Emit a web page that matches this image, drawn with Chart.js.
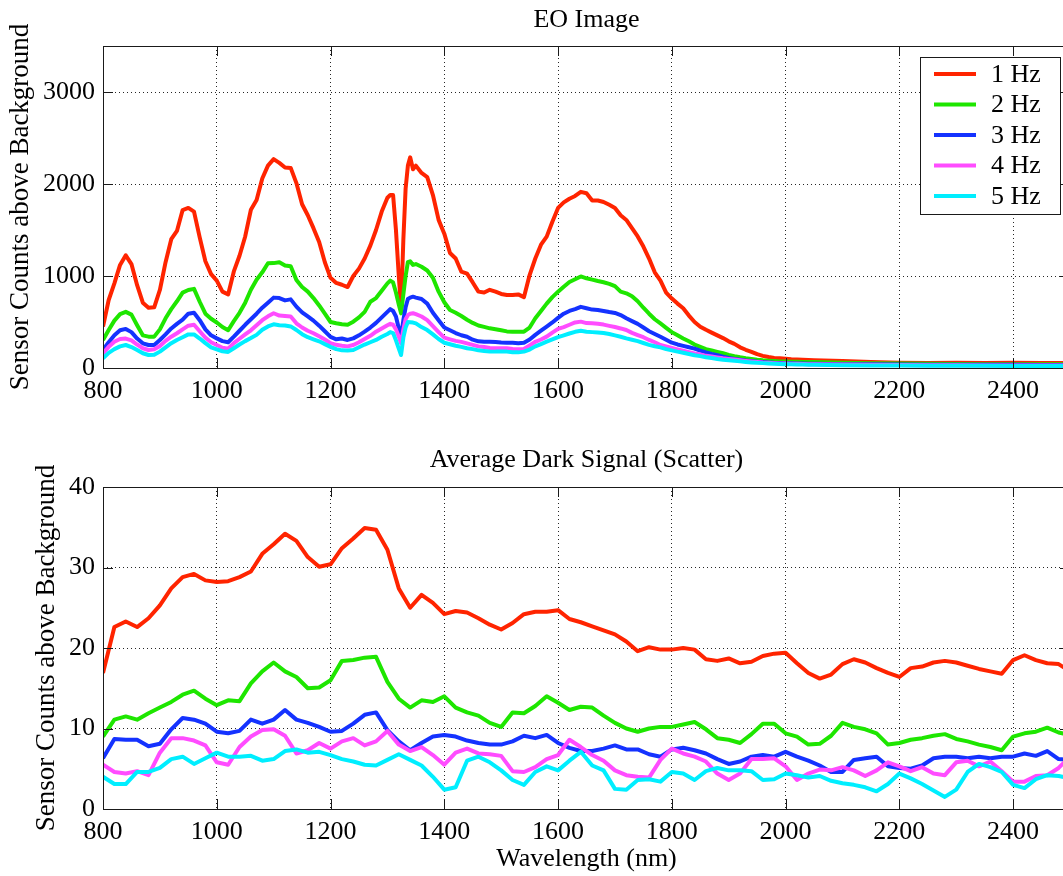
<!DOCTYPE html>
<html>
<head>
<meta charset="utf-8">
<script src="https://cdn.jsdelivr.net/npm/chart.js@4.4.1/dist/chart.umd.min.js"></script>
<style>
html,body{margin:0;padding:0;background:#fff;overflow:hidden;width:1063px;height:876px;}
#c1{position:absolute;left:0;top:0;}
#c2{position:absolute;left:0;top:430px;}
</style>
</head>
<body>
<canvas id="c1" width="1080" height="430"></canvas>
<canvas id="c2" width="1080" height="446"></canvas>
<script>
// ---------- DATA ----------
const seriesLabels = ['1 Hz', '2 Hz', '3 Hz', '4 Hz', '5 Hz'];
const seriesColors = ['#ff2400', '#1ee600', '#1432ff', '#ff4cff', '#00eeff'];

const xTickValues = [800, 1000, 1200, 1400, 1600, 1800, 2000, 2200, 2400];
const eoTickValues = [0, 1000, 2000, 3000];
const darkTickValues = [0, 10, 20, 30, 40];

// EO Image (top panel)
const eoWavelength = [
  800,810,820,830,840,850,860,870,880,890,900,910,920,930,940,950,960,970,980,990,
  1000,1010,1020,1030,1040,1050,1060,1070,1080,1090,1100,1110,1120,1130,1140,1150,1160,1170,1180,1190,
  1200,1210,1220,1230,1240,1250,1260,1270,1280,1290,1300,
  1305,1310,1315,1320,1324,1328,1332,1336,1340,1345,1350,
  1360,1370,1380,1390,1400,1410,1420,1430,1440,1450,1460,1470,1480,1490,1500,1510,1520,1530,1540,1550,
  1560,1570,1580,1590,1600,1610,1620,1630,1640,1650,1660,1670,1680,1690,1700,1710,1720,1730,1740,1750,
  1760,1770,1780,1790,1800,1810,1820,1830,1840,1850,1860,1870,1880,1890,1900,1910,1920,1930,1940,1950,
  1960,1970,1980,1990,2000,2010,2020,2030,2040,2050,
  2100,2150,2200,2250,2300,2350,2400,2450,2500
];
const eo1Hz = [
  450,739,920,1120,1225,1130,900,710,655,660,848,1150,1400,1490,1717,1740,1700,1420,1160,1020,
  950,830,800,1050,1220,1430,1720,1826,2060,2200,2270,2230,2180,2175,2010,1780,1660,1520,1370,1150,
  980,925,905,880,1000,1080,1190,1330,1500,1700,1850,
  1880,1880,1500,1000,650,1391,1950,2200,2290,2160,2200,
  2120,2075,1880,1610,1460,1250,1190,1047,1025,930,830,820,850,830,805,793,793,800,770,1010,
  1190,1340,1428,1590,1740,1800,1840,1870,1915,1899,1820,1820,1805,1775,1740,1660,1609,1520,1430,1320,
  1190,1040,950,820,755,700,650,570,500,449,415,385,355,325,290,262,225,198,176,150,
  132,120,110,105,100,95,92,90,88,85,
  75,65,58,55,57,55,58,55,55
];
const eo2Hz = [
  304,413,515,585,610,580,465,355,341,341,420,540,640,725,820,848,860,720,590,535,
  495,445,410,510,600,710,850,960,1040,1138,1140,1150,1115,1105,957,880,830,760,680,590,
  500,486,475,470,504,550,610,720,760,840,920,
  950,930,820,690,594,800,1000,1150,1160,1120,1130,
  1100,1060,980,830,715,630,600,565,525,490,462,447,431,422,410,398,395,395,395,440,
  540,620,700,770,830,884,935,965,995,975,960,945,932,915,890,830,812,780,725,655,
  590,530,484,436,390,355,320,290,255,230,205,190,175,160,142,128,116,106,98,90,
  84,80,76,72,70,68,67,66,65,64,
  58,52,48,45,44,42,42,40,40
];
const eo3Hz = [
  196,280,355,410,425,390,320,268,250,250,304,365,430,480,525,590,600,520,420,355,
  322,292,280,341,405,470,530,590,655,710,765,760,735,746,667,605,560,515,460,400,
  338,312,320,305,322,355,395,440,490,550,610,
  640,620,560,430,341,520,660,750,765,775,765,
  750,700,600,520,440,410,380,356,340,308,290,286,286,283,278,275,275,270,275,310,
  360,405,449,495,545,590,620,640,665,650,635,630,620,608,598,575,540,510,480,440,
  400,370,340,308,275,256,240,225,210,188,170,154,140,124,110,98,90,81,75,69,
  64,61,57,55,53,51,49,48,47,46,
  42,40,38,36,35,34,34,33,33
];
const eo4Hz = [
  159,230,285,315,320,300,255,215,196,203,239,295,340,378,420,460,470,400,330,280,
  250,220,210,270,318,365,410,465,520,562,595,570,565,560,486,440,405,378,345,310,
  270,252,242,235,250,280,315,350,395,430,465,
  480,470,420,340,268,420,530,575,590,595,585,
  560,520,455,390,330,312,295,284,268,252,235,228,218,214,214,214,206,203,206,245,
  285,310,341,385,425,445,470,495,504,488,486,480,472,458,445,430,413,382,358,335,
  305,280,250,234,218,203,188,172,157,148,132,125,115,106,99,92,84,77,71,65,
  60,57,53,50,48,47,45,43,42,41,
  37,34,32,30,30,28,28,27,27
];
const eo5Hz = [
  105,165,205,235,250,228,195,160,141,143,178,225,270,305,335,365,365,320,270,225,
  203,182,175,215,255,292,325,360,415,452,475,465,462,452,413,368,335,312,290,260,
  230,205,192,190,196,226,255,280,305,340,370,
  390,380,300,210,141,330,440,500,498,494,485,
  445,412,365,315,275,258,242,230,215,205,192,186,180,178,178,178,172,170,178,200,
  235,260,286,310,335,355,375,393,404,395,390,386,380,370,355,340,322,307,292,272,
  252,236,224,205,192,178,166,152,138,129,117,108,98,90,84,78,72,66,61,56,
  53,50,47,44,42,40,38,37,36,35,
  31,28,26,25,24,24,23,23,23
];

// Average Dark Signal (bottom panel)
const darkWavelength = [
  800,820,840,860,880,900,920,940,960,980,1000,1020,1040,1060,1080,1100,1120,1140,1160,1180,
  1200,1220,1240,1260,1280,1300,1320,1340,1360,1380,1400,1420,1440,1460,1480,1500,1520,1540,1560,1580,
  1600,1620,1640,1660,1680,1700,1720,1740,1760,1780,1800,1820,1840,1860,1880,1900,1920,1940,1960,1980,
  2000,2020,2040,2060,2080,2100,2120,2140,2160,2180,2200,2220,2240,2260,2280,2300,2320,2340,2360,2380,
  2400,2420,2440,2460,2480,2500
];
const dark1Hz = [
  16.9,22.6,23.3,22.6,23.7,25.3,27.4,28.8,29.2,28.4,28.2,28.3,28.8,29.5,31.7,32.9,34.2,33.3,31.3,30.1,
  30.4,32.4,33.6,34.9,34.7,32.2,27.4,25.0,26.6,25.6,24.2,24.6,24.4,23.7,22.9,22.3,23.1,24.2,24.5,24.5,
  24.7,23.6,23.2,22.7,22.2,21.7,20.8,19.6,20.1,19.8,19.8,20.0,19.8,18.6,18.4,18.7,18.1,18.3,19.0,19.3,
  19.4,18.1,16.9,16.2,16.7,18.0,18.6,18.2,17.5,16.9,16.4,17.5,17.7,18.2,18.4,18.2,17.8,17.4,17.1,16.8,
  18.5,19.1,18.5,18.1,18.0,17.1
];
const dark2Hz = [
  9.0,11.1,11.5,11.1,11.9,12.6,13.3,14.2,14.7,13.7,12.9,13.5,13.4,15.6,17.1,18.2,17.1,16.4,15.0,15.1,
  16.0,18.4,18.5,18.8,18.9,15.8,13.7,12.6,13.5,13.3,14.0,12.6,12.0,11.6,10.7,10.2,12.0,11.9,12.8,14.0,
  13.2,12.3,12.7,12.6,11.6,10.7,10.0,9.6,10.0,10.2,10.2,10.5,10.8,9.9,8.8,8.6,8.2,9.3,10.6,10.6,
  9.4,9.0,8.0,8.1,9.1,10.7,10.2,9.9,9.4,8.0,8.2,8.6,8.8,9.1,9.3,8.7,8.4,8.0,7.7,7.3,
  9.0,9.4,9.6,10.1,9.5,9.2
];
const dark3Hz = [
  6.3,8.7,8.6,8.6,7.8,8.1,9.9,11.3,11.1,10.6,9.6,9.4,9.7,11.1,10.6,11.1,12.3,11.1,10.7,10.2,
  9.6,9.7,10.6,11.7,12.0,9.8,8.4,7.3,8.2,9.0,9.2,9.0,8.5,8.2,8.0,8.0,8.4,9.1,8.8,9.2,
  8.2,7.6,7.2,7.2,7.5,7.9,7.4,7.4,6.8,6.5,7.4,7.6,7.3,6.9,6.2,5.6,5.9,6.5,6.7,6.5,
  7.1,6.5,6.0,5.4,4.6,4.6,6.1,6.3,6.5,5.3,5.1,5.0,5.4,6.3,6.5,6.5,6.3,6.5,6.3,6.5,
  6.5,6.9,6.6,7.2,6.2,6.1
];
const dark4Hz = [
  5.5,4.6,4.4,4.7,4.2,7.0,8.8,8.8,8.5,7.9,5.8,5.5,7.7,9.0,9.8,9.9,9.1,6.9,7.3,8.2,
  7.5,8.4,8.8,7.9,8.4,9.7,8.0,7.2,7.7,6.7,5.5,7.0,7.5,6.9,6.8,6.6,4.7,4.6,5.2,6.2,
  6.7,8.6,7.7,6.7,6.0,4.8,4.2,4.0,3.9,6.1,7.5,6.9,6.5,5.9,4.4,3.6,4.4,6.2,6.2,6.3,
  5.3,3.6,4.4,4.9,4.8,5.2,4.8,4.1,4.8,5.8,5.3,4.7,5.2,4.4,4.2,5.8,6.0,5.3,5.9,4.7,
  3.4,3.4,4.1,4.2,5.1,6.5
];
const dark5Hz = [
  4.0,3.1,3.1,4.6,4.6,5.1,6.2,6.5,5.6,6.3,7.0,6.5,6.5,6.6,6.0,6.2,7.2,7.4,7.0,7.1,
  6.7,6.2,5.9,5.5,5.4,6.1,6.8,6.1,5.4,4.0,2.4,2.7,6.0,6.5,5.8,4.8,3.6,3.0,4.6,5.3,
  4.8,6.0,7.1,5.4,4.8,2.5,2.4,3.6,3.7,3.4,4.6,4.4,3.6,4.7,5.1,4.8,4.8,4.7,3.6,3.7,
  4.4,4.2,3.9,4.1,3.5,3.2,3.0,2.7,2.2,3.1,4.4,3.8,3.1,2.3,1.5,2.4,4.6,5.6,5.2,4.6,
  3.0,2.6,3.7,4.2,4.1,3.8
];

// ---------- RENDERING ----------
const FONT = "'Liberation Serif', 'Times New Roman', Times, serif";
Chart.defaults.font.family = FONT;
Chart.defaults.color = '#000';

function buildDatasets(wl, seriesList) {
  return seriesList.map((vals, i) => ({
    label: seriesLabels[i],
    data: wl.map((x, j) => ({ x: x, y: vals[j] })),
    borderColor: seriesColors[i],
    backgroundColor: seriesColors[i],
    borderWidth: 4,
    pointRadius: 0,
    tension: 0,
    fill: false,
    borderJoinStyle: 'round',
    order: 5 - i
  }));
}

const framePlugin = {
  id: 'matlabFrame',
  afterDatasetsDraw(chart) {
    const { ctx, chartArea, scales } = chart;
    const { left, right, top, bottom } = chartArea;
    const L = 10;
    ctx.save();
    ctx.strokeStyle = '#1a1a1a';
    ctx.lineWidth = 1;
    ctx.beginPath();
    ctx.rect(Math.round(left) + 0.5, Math.round(top) + 0.5, Math.round(right - left), Math.round(bottom - top));
    ctx.stroke();
    ctx.beginPath();
    scales.x.ticks.forEach(t => {
      const px = Math.round(scales.x.getPixelForValue(t.value)) + 0.5;
      ctx.moveTo(px, bottom); ctx.lineTo(px, bottom - L);
      ctx.moveTo(px, top); ctx.lineTo(px, top + L);
    });
    scales.y.ticks.forEach(t => {
      const py = Math.round(scales.y.getPixelForValue(t.value)) + 0.5;
      ctx.moveTo(left, py); ctx.lineTo(left + L, py);
      ctx.moveTo(right, py); ctx.lineTo(right - L, py);
    });
    ctx.stroke();
    ctx.restore();
  }
};

const panelTitlePlugin = {
  id: 'panelTitle',
  afterDraw(chart, args, opts) {
    const { ctx, chartArea } = chart;
    ctx.save();
    ctx.font = '26px ' + FONT;
    ctx.fillStyle = '#000';
    ctx.textAlign = 'center';
    ctx.textBaseline = 'alphabetic';
    ctx.fillText(opts.text, (chartArea.left + chartArea.right) / 2, opts.baseline);
    ctx.restore();
  }
};

const boxLegendPlugin = {
  id: 'boxLegend',
  afterDraw(chart, args, opts) {
    if (!opts.show) return;
    const { ctx } = chart;
    const x0 = 920, x1 = 1060, y0 = 57, y1 = 214;
    ctx.save();
    ctx.fillStyle = '#fff';
    ctx.fillRect(x0, y0, x1 - x0, y1 - y0);
    ctx.strokeStyle = '#1a1a1a';
    ctx.lineWidth = 1;
    ctx.strokeRect(x0 + 0.5, y0 + 0.5, x1 - x0, y1 - y0);
    ctx.font = '26px ' + FONT;
    ctx.textAlign = 'left';
    ctx.textBaseline = 'middle';
    chart.data.datasets.forEach((ds, i) => {
      const yy = 74 + i * 30.5;
      ctx.strokeStyle = ds.borderColor;
      ctx.lineWidth = 4;
      ctx.beginPath();
      ctx.moveTo(934, yy); ctx.lineTo(976, yy);
      ctx.stroke();
      ctx.fillStyle = '#000';
      ctx.fillText(ds.label, 991, yy + 1);
    });
    ctx.restore();
  }
};

function axisCommon() {
  return {
    grid: { color: 'rgba(0,0,0,0.85)', lineWidth: 1, drawTicks: false },
    border: { display: false, dash: [1, 3] }
  };
}

function makePanel(canvasId, cfg) {
  const xAxis = Object.assign(axisCommon(), {
    type: 'linear', min: 800, max: 2500,
    afterBuildTicks: s => { s.ticks = xTickValues.map(v => ({ value: v })); },
    afterFit: s => { s.height = cfg.xHeight; },
    ticks: { font: { size: 26 }, padding: cfg.xPad, maxRotation: 0, autoSkip: false, callback: v => String(v) },
    title: cfg.xTitle ? { display: true, text: cfg.xTitle, font: { size: 26 }, padding: { top: 0, bottom: cfg.xTitlePad } } : { display: false }
  });
  const yAxis = Object.assign(axisCommon(), {
    type: 'linear', min: cfg.yMin, max: cfg.yMax,
    afterBuildTicks: s => { s.ticks = cfg.yTicks.map(v => ({ value: v })); },
    afterFit: s => { s.width = cfg.yWidth; },
    ticks: { font: { size: 26 }, padding: 8, callback: v => String(v) },
    title: { display: true, text: 'Sensor Counts above Background', font: { size: 27 }, padding: { top: 5, bottom: 0 } }
  });
  return new Chart(document.getElementById(canvasId), {
    type: 'line',
    data: { datasets: buildDatasets(cfg.wl, cfg.series) },
    options: {
      responsive: false,
      animation: false,
      devicePixelRatio: 1,
      layout: { padding: { left: cfg.padLeft, right: 10, top: cfg.padTop, bottom: 0 } },
      plugins: {
        legend: { display: false },
        tooltip: { enabled: false },
        panelTitle: { text: cfg.title, baseline: cfg.titleBaseline },
        boxLegend: { show: cfg.legend }
      },
      scales: { x: xAxis, y: yAxis }
    },
    plugins: [framePlugin, boxLegendPlugin, panelTitlePlugin]
  });
}

makePanel('c1', {
  wl: eoWavelength,
  series: [eo1Hz, eo2Hz, eo3Hz, eo4Hz, eo5Hz],
  yMin: 0, yMax: 3500, yTicks: eoTickValues,
  padLeft: 0, yWidth: 103, padTop: 46, xHeight: 62, xPad: 8,
  title: 'EO Image', titleBaseline: 27, legend: true
});

makePanel('c2', {
  wl: darkWavelength,
  series: [dark1Hz, dark2Hz, dark3Hz, dark4Hz, dark5Hz],
  yMin: 0, yMax: 40, yTicks: darkTickValues,
  padLeft: 26, yWidth: 77, padTop: 57, xHeight: 67, xPad: 8,
  xTitle: 'Wavelength (nm)', xTitlePad: 1,
  title: 'Average Dark Signal (Scatter)', titleBaseline: 37, legend: false
});
</script>
</body>
</html>
